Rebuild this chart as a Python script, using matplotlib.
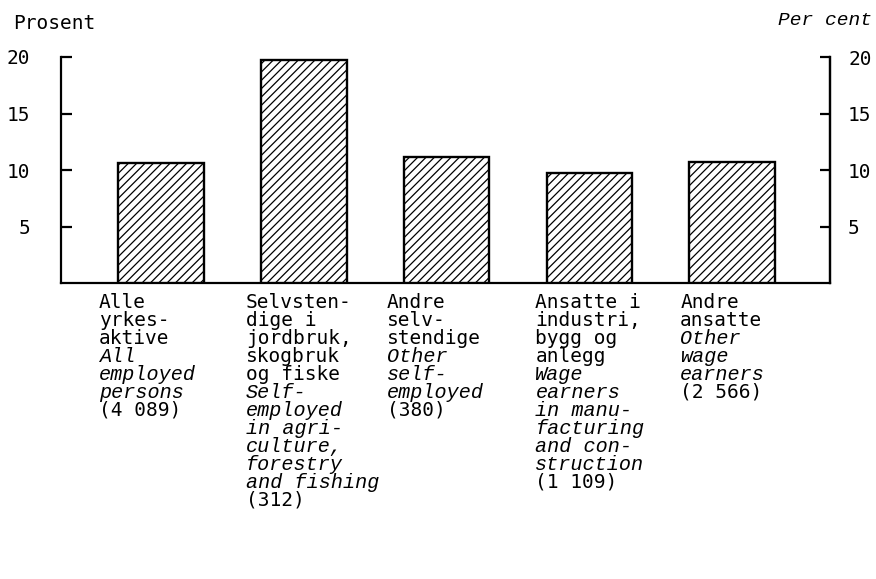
import matplotlib
matplotlib.use("Agg")
import matplotlib.pyplot as plt
from matplotlib.transforms import blended_transform_factory

values = [10.6, 19.7, 11.15, 9.7, 10.7]
labels_no = [
    ["Alle", "yrkes-", "aktive"],
    ["Selvsten-", "dige i", "jordbruk,", "skogbruk", "og fiske"],
    ["Andre", "selv-", "stendige"],
    ["Ansatte i", "industri,", "bygg og", "anlegg"],
    ["Andre", "ansatte"],
]
labels_en = [
    ["All", "employed", "persons"],
    ["Self-", "employed", "in agri-", "culture,", "forestry", "and fishing"],
    ["Other", "self-", "employed"],
    ["Wage", "earners", "in manu-", "facturing", "and con-", "struction"],
    ["Other", "wage", "earners"],
]
counts = ["(4 089)", "(312)", "(380)", "(1 109)", "(2 566)"]
yticks = [5, 10, 15, 20]

W, H = 876, 579
fig = plt.figure(figsize=(W / 100, H / 100), dpi=100)
ax = fig.add_axes([61 / W, 1 - 283 / H, (830 - 61) / W, (283 - 57) / H])

mono = "DejaVu Sans Mono"
ital = "Liberation Mono"
plt.rcParams["hatch.linewidth"] = 0.9

pos = list(range(len(values)))
ax.bar(pos, values, width=0.6, facecolor="white", edgecolor="black",
       linewidth=1.7, hatch="////", zorder=3)

ax.set_xlim(-0.70, 4.685)
ax.set_ylim(0, 20)
ax.set_xticks([])
ax.set_yticks(yticks)
ax.set_yticklabels([str(t) for t in yticks], fontfamily=mono, fontsize=14)
ax.tick_params(axis="y", direction="in", length=8, width=1.6, pad=22)
ax.spines["top"].set_visible(False)
for s in ["left", "bottom", "right"]:
    ax.spines[s].set_linewidth(1.6)

ax2 = ax.twinx()
ax2.set_ylim(0, 20)
ax2.set_yticks(yticks)
ax2.set_yticklabels([str(t) for t in yticks], fontfamily=mono, fontsize=14)
ax2.tick_params(axis="y", direction="in", length=7, width=1.6, pad=13)
for s in ["top", "left", "bottom"]:
    ax2.spines[s].set_visible(False)
ax2.spines["right"].set_linewidth(1.6)

fig.text(13 / W, 1 - 29 / H, "Prosent", fontfamily=mono, fontsize=14,
         ha="left", va="baseline")
fig.text(872 / W, 1 - 25 / H, "Per cent", fontfamily=ital, style="italic",
         fontsize=14, ha="right", va="baseline")

label_offsets = [-0.434, -0.406, -0.42, -0.378, -0.364]
tr = blended_transform_factory(ax.transData, fig.transFigure)
y0, dy = 308, 18.0
for i in range(len(values)):
    x = pos[i] + label_offsets[i]
    lines = [(t, mono, "normal", 14) for t in labels_no[i]]
    lines += [(t, ital, "italic", 14.5) for t in labels_en[i]]
    lines += [(counts[i], mono, "normal", 14)]
    for j, (t, fam, st, fs) in enumerate(lines):
        fig.text(x, 1 - (y0 + j * dy) / H, t, transform=tr, fontfamily=fam,
                 style=st, fontsize=fs, ha="left", va="baseline")

fig.savefig("out.png", dpi=100, facecolor="white")
